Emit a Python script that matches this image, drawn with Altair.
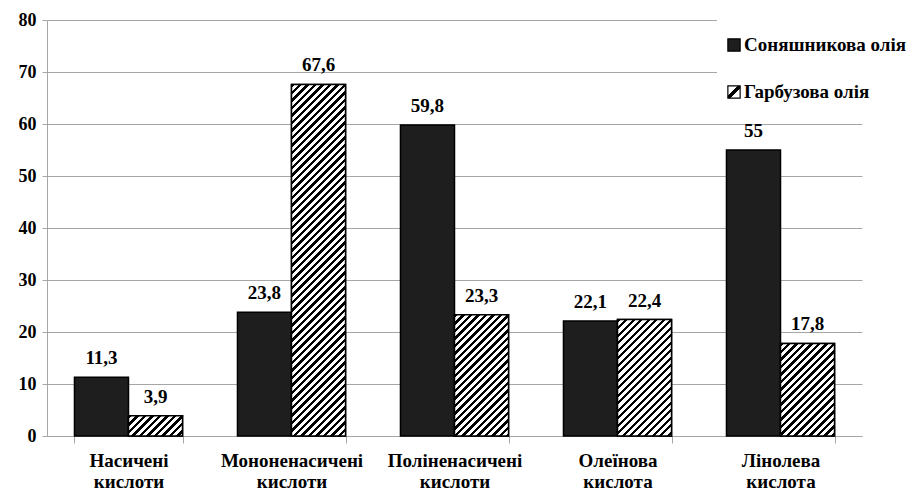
import altair as alt
import pandas as pd

categories = ["Насичені кислоти", "Мононенасичені кислоти", "Поліненасичені кислоти",
              "Олеїнова кислота", "Лінолева кислота"]
series = ["Соняшникова олія", "Гарбузова олія"]
sunflower = [11.3, 23.8, 59.8, 22.1, 55]
pumpkin = [3.9, 67.6, 23.3, 22.4, 17.8]
y_ticks = [0, 10, 20, 30, 40, 50, 60, 70, 80]

rows = []
for i, c in enumerate(categories):
    for s, vals in zip(series, [sunflower, pumpkin]):
        v = vals[i]
        rows.append({"cat": c, "oil": s, "value": v,
                     "label": f"{v:g}".replace(".", ","), "idx": i})
df = pd.DataFrame(rows)

W, H = 815, 416
YMAX = 80
PAD_IN = 0.337
FONT = "'Liberation Serif', 'Times New Roman', 'DejaVu Serif', serif"
DARK = "#1e1e1e"
GRID = "#a6a6a6"

step = W / len(categories)
bar_w = step * (1 - PAD_IN) / 2


def hatch(h, w, period=7.5, frac=0.45):
    r = h / w
    a = (1 + r) / (1 + r * r)
    p = period / (w + h)
    stops = []
    k = 0
    while k * p < 1:
        s = k * p
        for off, col in [(s, "black"), (s + frac * p, "black"),
                         (s + frac * p, "white"), (s + p, "white")]:
            stops.append({"offset": min(off, 1.0), "color": col})
        k += 1
    return {"gradient": "linear", "x1": 0, "y1": 0, "x2": a, "y2": a * r, "stops": stops}


legend_hatch = {"gradient": "linear", "x1": 0, "y1": 0, "x2": 1, "y2": 1,
                "stops": [{"offset": 0, "color": "white"}, {"offset": 0.38, "color": "white"},
                          {"offset": 0.38, "color": "black"}, {"offset": 0.62, "color": "black"},
                          {"offset": 0.62, "color": "white"}, {"offset": 1, "color": "white"}]}

x_enc = alt.X("cat:N", sort=categories, title=None,
              scale=alt.Scale(paddingInner=PAD_IN, paddingOuter=PAD_IN / 2),
              axis=alt.Axis(labelAngle=0, labelExpr="split(datum.label, ' ')",
                            labelFont=FONT, labelFontSize=19, labelFontWeight="bold",
                            labelColor="black", labelLineHeight=21, labelPadding=8,
                            tickBand="extent", tickSize=7, tickColor=GRID,
                            domainColor=GRID, grid=False))
xo_enc = alt.XOffset("oil:N", sort=series)
y_enc = alt.Y("value:Q", title=None,
              scale=alt.Scale(domain=[0, YMAX], nice=False),
              axis=alt.Axis(values=y_ticks, labelFont=FONT, labelFontSize=18,
                            labelFontWeight="bold", labelColor="black", labelPadding=6,
                            tickSize=5, tickColor=GRID, domainColor=GRID,
                            gridColor=GRID, gridWidth=1))

base = alt.Chart(df)

bars = base.mark_bar(stroke="black", strokeWidth=1.5).encode(
    x=x_enc, xOffset=xo_enc, y=y_enc,
    color=alt.Color("oil:N", sort=series, legend=None,
                    scale=alt.Scale(domain=series, range=[DARK, "white"]))
)

layers = [bars]
for i, v in enumerate(pumpkin):
    h = v * H / YMAX
    layers.append(
        base.transform_filter(
            (alt.datum.oil == series[1]) & (alt.datum.idx == i)
        ).mark_bar(stroke="black", strokeWidth=1.5, fill=hatch(h, bar_w)).encode(
            x=x_enc, xOffset=xo_enc, y=y_enc)
    )

text = base.mark_text(dy=-13, baseline="alphabetic", font=FONT, fontSize=19,
                      fontWeight="bold", color="black").encode(
    x=x_enc, xOffset=xo_enc, y=y_enc, text="label:N")
layers.append(text)

# legend (drawn manually so the hatch swatch can carry its pattern)
leg_df = pd.DataFrame({"oil": series})
leg_bg = alt.Chart(leg_df).transform_filter(alt.datum.oil == series[0]).mark_rect(
    fill="white").encode(x=alt.value(670), x2=alt.value(900),
                         y=alt.value(-3), y2=alt.value(95))
layers.append(leg_bg)
leg_y = [25, 72]
swatch_fill = [DARK, legend_hatch]
for i, s in enumerate(series):
    one = alt.Chart(leg_df).transform_filter(alt.datum.oil == s)
    layers.append(one.mark_square(size=150, fill=swatch_fill[i], stroke="black",
                                  strokeWidth=1.2, opacity=1).encode(
        x=alt.value(687), y=alt.value(leg_y[i])))
    layers.append(one.mark_text(align="left", baseline="middle", font=FONT, fontSize=19,
                                fontWeight="bold", color="black").encode(
        x=alt.value(697), y=alt.value(leg_y[i]), text="oil:N"))

chart = alt.layer(*layers).properties(
    width=W, height=H, background="white",
    autosize=alt.AutoSizeParams(type="none"),
    padding={"left": 39, "top": 12, "right": 53, "bottom": 55},
).configure_view(stroke=None).configure_scale(
    offsetBandPaddingInner=0, offsetBandPaddingOuter=0)

chart.save("out.html", embed_options={"renderer": "svg", "actions": False})
